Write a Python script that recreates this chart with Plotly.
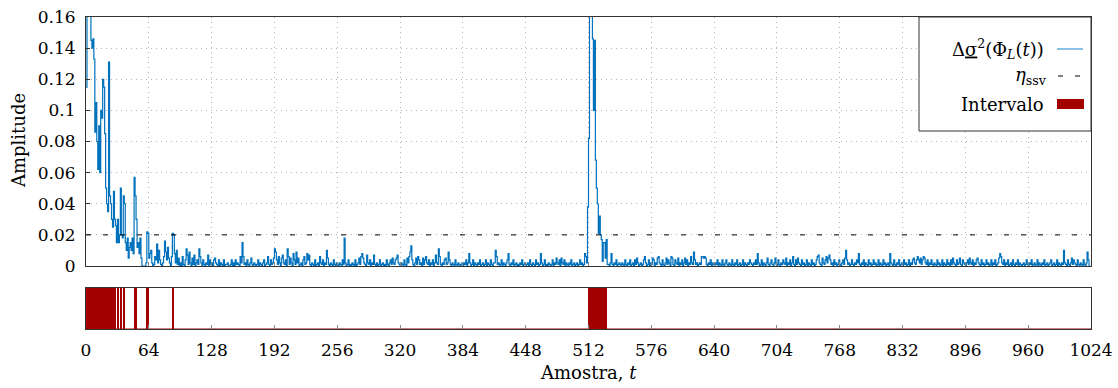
import plotly.graph_objects as go

# ---------------- data (values in thousandths of amplitude) ----------------
signal_milli = [
    # 0-31
    115, 180, 180, 180, 170, 145, 140, 146, 133, 86, 105, 80, 62, 90, 60, 100,
    95, 120, 115, 85, 50, 40, 35, 131, 45, 40, 30, 25, 48, 30, 26, 15,
    # 32-63
    30, 15, 20, 50, 20, 18, 45, 40, 15, 10, 18, 5, 12, 15, 10, 18,
    8, 57, 45, 30, 12, 15, 8, 18, 5, 0, 0, 0, 0, 2, 22, 21,
    # 64-95
    5, 8, 10, 2, 0, 1, 6, 4, 14, 2, 10, 4, 1, 0, 2, 6,
    16, 9, 4, 12, 5, 2, 0, 6, 21, 20, 8, 2, 10, 1, 5, 0,
    # 96-127
    2, 0, 6, 1, 0, 4, 11, 7, 1, 9, 2, 0, 5, 1, 7, 0,
    2, 4, 1, 11, 6, 2, 0, 4, 1, 0, 2, 1, 7, 0, 4, 1,
    # 128-159
    2, 0, 4, 5, 2, 1, 0, 4, 0, 2, 1, 0, 4, 0, 1, 1,
    2, 0, 0, 1, 4, 0, 2, 0, 4, 1, 2, 1, 0, 6, 2, 15,
    # 160-191
    6, 1, 2, 0, 4, 1, 0, 2, 5, 1, 0, 2, 1, 0, 1, 4,
    0, 2, 1, 0, 2, 4, 0, 1, 2, 6, 1, 0, 4, 1, 2, 5,
    # 192-223
    11, 9, 4, 1, 6, 2, 0, 5, 7, 2, 1, 4, 0, 11, 6, 1,
    5, 2, 0, 8, 4, 1, 9, 2, 5, 0, 1, 2, 0, 4, 6, 1,
    # 224-255
    2, 8, 4, 7, 1, 0, 2, 1, 0, 4, 0, 1, 2, 0, 6, 2,
    1, 4, 0, 2, 1, 10, 5, 1, 0, 2, 1, 0, 4, 1, 0, 2,
    # 256-287
    1, 0, 2, 1, 0, 4, 1, 18, 2, 0, 1, 4, 0, 1, 0, 2,
    1, 0, 4, 0, 1, 2, 5, 1, 6, 8, 5, 2, 1, 0, 7, 2,
    # 288-319
    1, 4, 0, 2, 1, 7, 1, 0, 2, 0, 1, 4, 0, 1, 2, 0,
    1, 0, 4, 1, 0, 2, 4, 1, 5, 2, 1, 4, 5, 7, 2, 1,
    # 320-351
    0, 2, 1, 0, 4, 1, 0, 5, 2, 6, 9, 13, 4, 1, 0, 2,
    5, 1, 6, 4, 1, 2, 0, 5, 1, 4, 6, 2, 1, 4, 0, 2,
    # 352-383
    1, 4, 0, 2, 7, 2, 1, 11, 6, 1, 0, 2, 1, 4, 5, 1,
    2, 9, 4, 1, 0, 2, 1, 0, 4, 1, 0, 2, 1, 0, 1, 2,
    # 384-415
    0, 2, 1, 4, 0, 2, 8, 2, 0, 1, 4, 0, 2, 1, 0, 2,
    1, 4, 0, 1, 2, 0, 1, 4, 0, 2, 1, 0, 4, 1, 0, 2,
    # 416-447
    2, 10, 6, 1, 2, 0, 1, 4, 0, 2, 1, 0, 2, 4, 8, 1,
    0, 2, 1, 4, 0, 1, 2, 0, 1, 0, 2, 1, 4, 0, 1, 2,
    # 448-479
    0, 1, 2, 0, 4, 1, 0, 2, 1, 0, 4, 1, 2, 0, 1, 8,
    2, 0, 1, 4, 0, 1, 0, 2, 1, 0, 1, 4, 0, 2, 1, 5,
    # 480-511
    2, 1, 4, 0, 5, 2, 1, 4, 0, 2, 1, 0, 2, 1, 4, 0,
    1, 2, 0, 1, 2, 0, 1, 4, 1, 2, 0, 1, 8, 6, 2, 38,
    # 512-543
    82, 180, 180, 180, 146, 100, 145, 68, 50, 40, 21, 32, 20, 17, 3, 15,
    15, 5, 17, 1, 1, 0, 2, 8, 1, 0, 2, 1, 4, 0, 1, 2,
    # 544-575
    1, 0, 2, 1, 0, 4, 1, 0, 2, 1, 4, 0, 1, 2, 0, 4,
    1, 5, 2, 0, 1, 2, 0, 1, 4, 6, 2, 0, 1, 4, 0, 2,
    # 576-607
    1, 5, 4, 0, 2, 1, 5, 6, 2, 1, 0, 4, 1, 0, 2, 5,
    1, 4, 2, 0, 6, 5, 1, 0, 4, 2, 1, 5, 0, 2, 1, 4,
    # 608-639
    0, 2, 5, 1, 4, 0, 2, 1, 6, 2, 1, 9, 4, 1, 2, 0,
    1, 2, 1, 6, 6, 5, 6, 5, 1, 0, 2, 1, 4, 0, 2, 1,
    # 640-671
    0, 2, 1, 4, 0, 2, 1, 0, 4, 1, 0, 2, 4, 1, 0, 2,
    1, 0, 4, 1, 0, 2, 1, 4, 0, 1, 2, 0, 1, 4, 0, 2,
    # 672-703
    1, 0, 2, 1, 4, 2, 1, 0, 2, 1, 4, 1, 8, 2, 0, 1,
    4, 0, 2, 1, 0, 2, 5, 1, 0, 2, 4, 1, 0, 2, 5, 1,
    # 704-735
    0, 4, 1, 0, 2, 1, 4, 2, 1, 5, 0, 2, 1, 4, 0, 2,
    6, 1, 0, 4, 1, 5, 2, 1, 0, 4, 1, 2, 0, 1, 4, 0,
    # 736-767
    2, 1, 0, 4, 1, 2, 0, 1, 4, 6, 7, 2, 1, 0, 5, 2,
    1, 4, 6, 2, 5, 7, 4, 1, 2, 0, 4, 1, 2, 0, 1, 4,
    # 768-799
    1, 0, 2, 4, 1, 5, 10, 4, 1, 2, 0, 1, 4, 1, 0, 2,
    1, 4, 2, 8, 1, 0, 2, 1, 4, 0, 2, 1, 0, 4, 1, 2,
    # 800-831
    0, 1, 4, 1, 2, 0, 1, 4, 0, 2, 1, 0, 4, 1, 2, 0,
    1, 2, 0, 8, 2, 1, 0, 4, 1, 0, 2, 1, 4, 0, 1, 2,
    # 832-863
    0, 4, 1, 2, 0, 1, 4, 0, 2, 1, 4, 5, 2, 1, 4, 6,
    4, 2, 5, 1, 4, 6, 5, 2, 1, 4, 0, 2, 1, 4, 1, 0,
    # 864-895
    2, 1, 0, 4, 1, 2, 0, 1, 4, 0, 2, 1, 0, 4, 1, 2,
    0, 4, 1, 5, 2, 1, 0, 4, 1, 2, 5, 1, 0, 4, 2, 1,
    # 896-927
    0, 2, 4, 1, 5, 2, 1, 4, 0, 2, 1, 4, 5, 2, 1, 0,
    4, 1, 2, 0, 1, 4, 1, 2, 0, 1, 4, 0, 2, 1, 4, 0,
    # 928-959
    1, 2, 5, 8, 6, 2, 1, 4, 0, 2, 1, 4, 0, 1, 2, 0,
    4, 1, 0, 2, 1, 4, 0, 2, 1, 0, 1, 2, 0, 1, 4, 1,
    # 960-991
    0, 2, 1, 4, 0, 1, 2, 0, 1, 4, 0, 2, 1, 0, 2, 1,
    4, 0, 1, 2, 0, 1, 2, 4, 0, 1, 2, 0, 1, 4, 0, 2,
    # 992-1023
    1, 0, 2, 1, 10, 2, 1, 0, 4, 1, 0, 2, 5, 1, 4, 2,
    1, 0, 4, 1, 0, 2, 1, 0, 4, 1, 0, 2, 9, 4, 0, 0,
]
samples = list(range(len(signal_milli)))
signal = [v / 1000.0 for v in signal_milli]

threshold = 0.02
interval_starts = [0, 32, 35, 38, 49, 62, 88, 511]
interval_ends = [30, 32, 35, 39, 51, 63, 89, 530]

x_ticks = list(range(0, 1025, 64))
y_ticks = [0, 0.02, 0.04, 0.06, 0.08, 0.1, 0.12, 0.14, 0.16]
y_tick_text = ["0", "0.02", "0.04", "0.06", "0.08", "0.1", "0.12", "0.14", "0.16"]

legend_labels = [
    "Δ<u>σ</u><sup>2</sup>(Φ<sub><i>L</i></sub>(<i>t</i>))",
    "<i>η</i><sub>ssv</sub>",
    "Intervalo",
]

# ---------------- styling ----------------
BLUE = "#0072BD"
LIGHTBLUE = "#64ACDD"
RED = "#A30000"
AXIS = "#333333"
GRID = "#B4B4B4"
FONT = "DejaVu Serif"

W, H = 1118, 388
L, R, T, B = 86, 1091, 17, 329   # plot area in pixels


def px(x):
    return (x - L) / (R - L)


def py(y):
    return (B - y) / (B - T)


fig = go.Figure()

fig.add_trace(go.Scatter(
    x=samples, y=signal, mode="lines", line=dict(color=BLUE, width=1.2, shape="hv"),
    xaxis="x", yaxis="y", showlegend=False, hoverinfo="skip"))

fig.add_trace(go.Scatter(
    x=[x_ticks[0], x_ticks[-1]], y=[threshold, threshold], mode="lines",
    line=dict(color="black", width=1, dash="5px,12px"),
    xaxis="x", yaxis="y", showlegend=False, hoverinfo="skip"))

fig.add_trace(go.Bar(
    x=interval_starts, y=[1] * len(interval_starts),
    width=[e - s + 1 for s, e in zip(interval_starts, interval_ends)],
    offset=0, marker=dict(color=RED, line=dict(width=0)),
    xaxis="x2", yaxis="y2", showlegend=False, hoverinfo="skip"))

fig.add_trace(go.Scatter(
    x=[x_ticks[0], x_ticks[-1]], y=[0, 0], mode="lines",
    line=dict(color=RED, width=1), xaxis="x2", yaxis="y2",
    showlegend=False, hoverinfo="skip"))

top_lo = py(266)
bot_hi = py(288)

common_x = dict(range=[0, 1024], tickvals=x_ticks, showline=True, linecolor=AXIS,
                linewidth=1, mirror=True, ticks="inside", ticklen=4, tickcolor="#888888",
                zeroline=False, automargin=False)

fig.update_layout(
    width=W, height=H, paper_bgcolor="white", plot_bgcolor="white",
    margin=dict(l=L, r=W - R, t=T, b=H - B, autoexpand=False),
    font=dict(family=FONT, size=17, color="black"),
    bargap=0,
    xaxis=dict(**common_x, domain=[0, 1], anchor="y", showticklabels=False,
               showgrid=True, gridcolor=GRID, griddash="1px,4px", gridwidth=1),
    yaxis=dict(domain=[top_lo, 1], range=[0, 0.16], tickvals=y_ticks, ticktext=y_tick_text,
               showline=True, linecolor=AXIS, linewidth=1, mirror=True, ticks="inside",
               ticklen=4, tickcolor=AXIS, showgrid=True, gridcolor=GRID,
               griddash="1px,4px", zeroline=False, ticklabelstandoff=6, automargin=False),
    xaxis2=dict(**common_x, domain=[0, 1], anchor="y2", matches="x", showticklabels=True,
                showgrid=False, ticklabelstandoff=6),
    yaxis2=dict(domain=[0, bot_hi], range=[0, 1], showline=True, linecolor=AXIS,
                linewidth=1, mirror=True, showticklabels=False, ticks="", showgrid=False,
                zeroline=False, automargin=False),
)

ann = []
ann.append(dict(text="Amostra, <i>t</i>", x=0.5, y=(B - 372) / (B - T), xref="paper",
                yref="paper", showarrow=False, xanchor="center", yanchor="middle",
                font=dict(size=18)))
ann.append(dict(text="Amplitude", x=px(18), y=py(141), xref="paper", yref="paper",
                showarrow=False, textangle=-90, xanchor="center", yanchor="middle",
                font=dict(size=18)))

# legend box
fig.add_shape(type="rect", xref="paper", yref="paper", x0=px(919), x1=px(1091),
              y0=py(131), y1=py(17), line=dict(color=AXIS, width=1), fillcolor="white",
              layer="above")
rows_y = [49, 76, 104]
text_right = [1046, 1049, 1046]
for lab, yy, xr in zip(legend_labels, rows_y, text_right):
    ann.append(dict(text=lab, x=px(xr), y=py(yy), xref="paper", yref="paper",
                    showarrow=False, xanchor="right", yanchor="middle",
                    font=dict(size=18)))
fig.add_shape(type="line", xref="paper", yref="paper", x0=px(1057), x1=px(1083),
              y0=py(rows_y[0]), y1=py(rows_y[0]), line=dict(color=LIGHTBLUE, width=1.5),
              layer="above")
fig.add_shape(type="line", xref="paper", yref="paper", x0=px(1058), x1=px(1082),
              y0=py(rows_y[1]), y1=py(rows_y[1]), line=dict(color="black", width=1,
                                                              dash="5px,12px"),
              layer="above")
fig.add_shape(type="rect", xref="paper", yref="paper", x0=px(1057), x1=px(1084),
              y0=py(109), y1=py(99), line=dict(width=0), fillcolor=RED, layer="above")

fig.update_layout(annotations=ann)
fig.write_html("out.html")
